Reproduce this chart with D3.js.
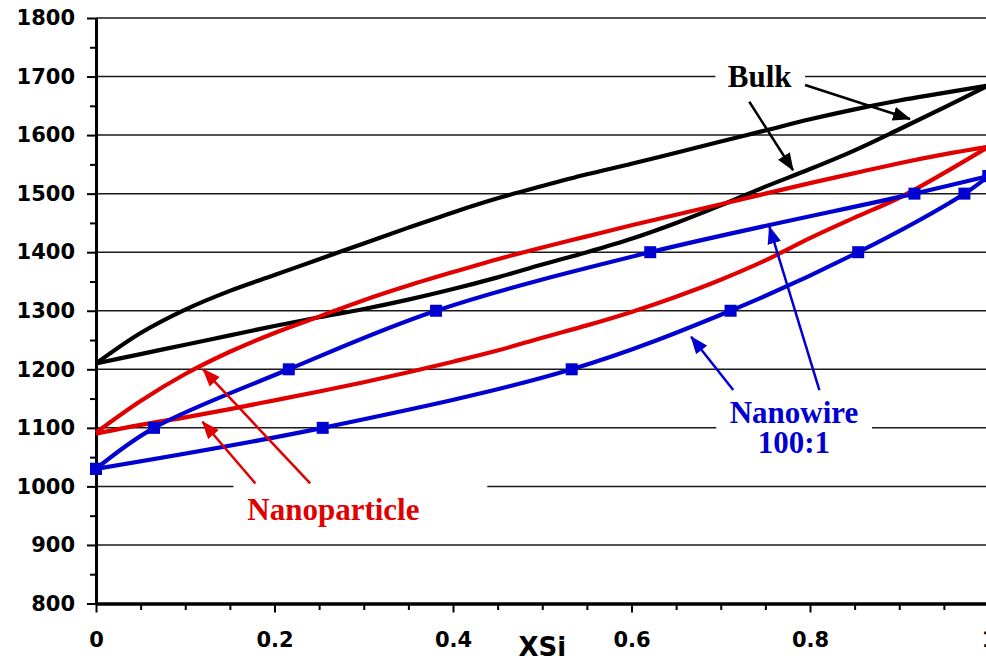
<!DOCTYPE html>
<html>
<head>
<meta charset="utf-8">
<script src="https://cdn.jsdelivr.net/npm/d3@7"></script>
<style>
body { margin: 0; background: #fff; }
</style>
</head>
<body>
<svg id="chart" width="986" height="659"></svg>
<script>
// Composition samples (mole fraction Si) used by the bulk and nanoparticle curves
var xs = [0, 0.05, 0.1, 0.15, 0.2, 0.25, 0.3, 0.35, 0.4, 0.45, 0.5,
          0.55, 0.6, 0.65, 0.7, 0.75, 0.8, 0.85, 0.9, 0.95, 1];

var bulkLiquidus = [1210, 1262, 1302, 1334, 1361, 1388, 1415, 1442, 1468, 1492, 1513,
                    1533, 1551, 1570, 1589, 1608, 1627, 1644, 1659, 1672, 1685];
var bulkSolidus  = [1210, 1226, 1242, 1258, 1274, 1289, 1303, 1319, 1337, 1357, 1379,
                    1400, 1423, 1450, 1480, 1512, 1542, 1574, 1610, 1647, 1685];

var nanoLiquidus = [1092, 1146, 1192, 1230, 1262, 1290, 1318, 1343, 1366, 1388, 1408,
                    1427, 1446, 1464, 1482, 1500, 1518, 1535, 1552, 1567, 1580];
var nanoSolidus  = [1090, 1105, 1118, 1132, 1147, 1162, 1178, 1195, 1213, 1232, 1254,
                    1275, 1298, 1324, 1353, 1386, 1424, 1459, 1493, 1535, 1580];

// Nanowire 100:1 (one point per marker)
var wireLiqX = [0, 0.065, 0.216, 0.381, 0.621, 0.917, 1];
var wireLiqT = [1030, 1100, 1200, 1300, 1400, 1500, 1530];
var wireSolX = [0, 0.254, 0.533, 0.711, 0.854, 0.973, 1];
var wireSolT = [1030, 1100, 1200, 1300, 1400, 1500, 1530];

// Axis ticks
var yTicks = [800, 900, 1000, 1100, 1200, 1300, 1400, 1500, 1600, 1700, 1800];
var yMinorTicks = [850, 950, 1050, 1150, 1250, 1350, 1450, 1550, 1650, 1750];
var xTicks = [0, 0.2, 0.4, 0.6, 0.8, 1];
var xMinorTicks = [0.05, 0.1, 0.15, 0.25, 0.3, 0.35, 0.45, 0.5, 0.55, 0.65, 0.7, 0.75, 0.85, 0.9, 0.95];

var red = "#e00000",
    blue = "#0000d0";

var svg = d3.select("#chart");

var x = d3.scaleLinear().domain([0, 1]).range([96, 988.5]);
var y = d3.scaleLinear().domain([800, 1800]).range([603.5, 18]);

svg.append("rect").attr("width", 986).attr("height", 659).attr("fill", "#fff");

// Arrow heads
var defs = svg.append("defs");
[["black", "#000"], ["red", red], ["blue", blue]].forEach(function (c) {
    defs.append("marker")
        .attr("id", "head-" + c[0])
        .attr("viewBox", "0 -8 18 16")
        .attr("refX", 17)
        .attr("refY", 0)
        .attr("markerWidth", 18)
        .attr("markerHeight", 16)
        .attr("markerUnits", "userSpaceOnUse")
        .attr("orient", "auto")
        .append("path")
        .attr("d", "M0,-7L18,0L0,7Z")
        .attr("fill", c[1]);
});

// Horizontal gridlines
svg.append("g").selectAll("line")
    .data(yTicks.filter(function (d) { return d > 800; }))
    .enter().append("line")
    .attr("x1", x(0)).attr("x2", x(1))
    .attr("y1", function (d) { return y(d); })
    .attr("y2", function (d) { return y(d); })
    .attr("stroke", "#1a1a1a")
    .attr("stroke-width", 1.5);

// White boxes behind the annotation labels (they cut the gridlines)
var boxes = [
    [0.694, 0.7945, 1742, 1657],
    [0.154, 0.4384, 1004, 905],
    [0.695, 0.8695, 1164, 1025]
];
svg.append("g").selectAll("rect")
    .data(boxes)
    .enter().append("rect")
    .attr("x", function (d) { return x(d[0]); })
    .attr("width", function (d) { return x(d[1]) - x(d[0]); })
    .attr("y", function (d) { return y(d[2]); })
    .attr("height", function (d) { return y(d[3]) - y(d[2]); })
    .attr("fill", "#fff");

// Axes
function styleAxis(g, width) {
    g.select(".domain").attr("stroke", "#000").attr("stroke-width", 3);
    g.selectAll(".tick line").attr("stroke", "#000").attr("stroke-width", width);
    g.selectAll(".tick text")
        .attr("fill", "#000")
        .style("font-family", "'DejaVu Sans', Verdana, sans-serif")
        .style("font-weight", "bold")
        .style("font-size", "21px");
}

var plain = function (d) { return d; };

var yMinor = svg.append("g")
    .attr("transform", "translate(" + x(0) + ",0)")
    .call(d3.axisLeft(y).tickValues(yMinorTicks).tickSize(6).tickSizeOuter(0).tickFormat(""));
styleAxis(yMinor, 2);

var yAxis = svg.append("g")
    .attr("transform", "translate(" + x(0) + ",0)")
    .call(d3.axisLeft(y).tickValues(yTicks).tickSize(9).tickSizeOuter(0).tickPadding(12).tickFormat(plain));
styleAxis(yAxis, 2);

var xMinor = svg.append("g")
    .attr("transform", "translate(0," + y(800) + ")")
    .call(d3.axisBottom(x).tickValues(xMinorTicks).tickSize(6.5).tickSizeOuter(0).tickFormat(""));
styleAxis(xMinor, 2);

var xAxis = svg.append("g")
    .attr("transform", "translate(0," + y(800) + ")")
    .call(d3.axisBottom(x).tickValues(xTicks).tickSize(9).tickSizeOuter(0).tickPadding(20).tickFormat(plain));
styleAxis(xAxis, 2);

svg.append("text")
    .attr("x", (x(0) + x(1)) / 2)
    .attr("y", 656)
    .attr("text-anchor", "middle")
    .style("font-family", "'DejaVu Sans', Verdana, sans-serif")
    .style("font-weight", "bold")
    .style("font-size", "26px")
    .text("XSi");

// Curves
var line = d3.line()
    .x(function (d) { return x(d[0]); })
    .y(function (d) { return y(d[1]); })
    .curve(d3.curveCatmullRom.alpha(0.5));

function pairs(xv, tv) {
    return xv.map(function (v, i) { return [v, tv[i]]; });
}

var series = [
    { pts: pairs(xs, bulkLiquidus), color: "#000" },
    { pts: pairs(xs, bulkSolidus), color: "#000" },
    { pts: pairs(xs, nanoLiquidus), color: red },
    { pts: pairs(xs, nanoSolidus), color: red },
    { pts: pairs(wireLiqX, wireLiqT), color: blue, markers: true },
    { pts: pairs(wireSolX, wireSolT), color: blue, markers: true }
];

series.forEach(function (s) {
    svg.append("path")
        .datum(s.pts)
        .attr("d", line)
        .attr("fill", "none")
        .attr("stroke", s.color)
        .attr("stroke-width", 4.2)
        .attr("stroke-linejoin", "round");
});

series.filter(function (s) { return s.markers; }).forEach(function (s) {
    svg.append("g").selectAll("rect")
        .data(s.pts)
        .enter().append("rect")
        .attr("x", function (d) { return x(d[0]) - 6; })
        .attr("y", function (d) { return y(d[1]) - 6; })
        .attr("width", 12)
        .attr("height", 12)
        .attr("fill", s.color);
});

// Annotation arrows: [x1, T1, x2, T2]
var arrows = [
    { d: [0.7945, 1685.6, 0.912, 1627.5], c: "black", col: "#000" },
    { d: [0.732, 1657, 0.781, 1540], c: "black", col: "#000" },
    { d: [0.240, 1005, 0.120, 1200], c: "red", col: red },
    { d: [0.1786, 1005, 0.1193, 1110.5], c: "red", col: red },
    { d: [0.714, 1164.6, 0.6668, 1255.7], c: "blue", col: blue },
    { d: [0.8105, 1164.6, 0.7545, 1443.6], c: "blue", col: blue }
];

svg.append("g").selectAll("line")
    .data(arrows)
    .enter().append("line")
    .attr("x1", function (a) { return x(a.d[0]); })
    .attr("y1", function (a) { return y(a.d[1]); })
    .attr("x2", function (a) { return x(a.d[2]); })
    .attr("y2", function (a) { return y(a.d[3]); })
    .attr("stroke", function (a) { return a.col; })
    .attr("stroke-width", 2.5)
    .attr("marker-end", function (a) { return "url(#head-" + a.c + ")"; });

// Annotation labels
var labels = [
    { t: "Bulk", x: 0.7436, T: 1682, col: "#000" },
    { t: "Nanoparticle", x: 0.266, T: 942.6, col: red },
    { t: "Nanowire", x: 0.782, T: 1109, col: blue },
    { t: "100:1", x: 0.782, T: 1057, col: blue }
];

svg.append("g").selectAll("text")
    .data(labels)
    .enter().append("text")
    .attr("x", function (d) { return x(d.x); })
    .attr("y", function (d) { return y(d.T); })
    .attr("text-anchor", "middle")
    .attr("fill", function (d) { return d.col; })
    .style("font-family", "'Liberation Serif', 'Times New Roman', serif")
    .style("font-weight", "bold")
    .style("font-size", "31px")
    .text(function (d) { return d.t; });
</script>
</body>
</html>
